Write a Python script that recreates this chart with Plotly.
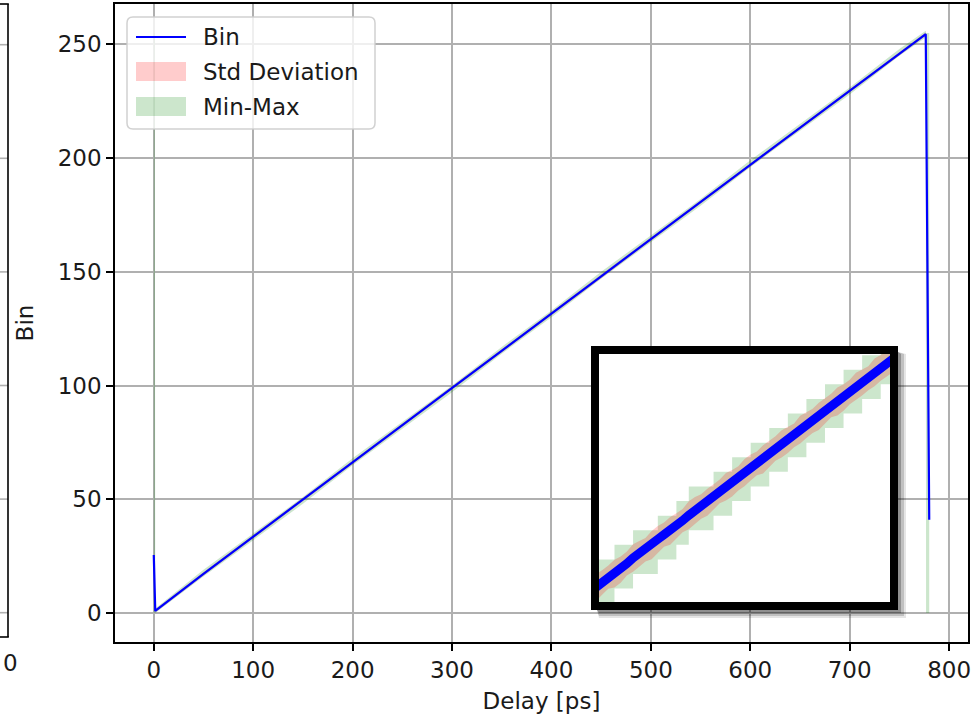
import plotly.graph_objects as go

# ---------------- data ----------------
delay_ps = [0, 1, 1.5, 50, 100, 150, 200, 250, 300, 350, 400, 450, 500, 550,
            600, 650, 700, 750, 776.5, 776.8, 780]
bin_mean = [25.5, 13.0, 0.9, 17.2, 33.5, 49.9, 66.2, 82.6, 98.9, 115.3, 131.6,
            148.0, 164.4, 180.7, 197.1, 213.4, 229.8, 246.1, 254.5, 236.2, 41.0]
bin_std = [0.6, 0.6, 0.6, 0.7, 0.7, 0.8, 0.7, 0.7, 0.8, 0.7, 0.7, 0.8, 0.7,
           0.7, 0.8, 0.7, 0.7, 0.8, 0.7, 0.6, 0.6]
bin_min = [0, 0, 0, 16, 32, 48, 65, 81, 97, 114, 130, 147, 163, 179, 196, 212,
           228, 245, 253, 0, 0]
bin_max = [255, 255, 2, 19, 35, 51, 68, 84, 100, 117, 133, 150, 166, 182, 199,
           215, 231, 248, 256, 255, 255]

# zoomed detail shown in the inset
inset_delay = [498, 499, 500, 501, 502, 503, 504, 505, 506, 507, 508, 509, 510,
               511, 512, 513, 514, 515, 516, 517, 518, 519, 520, 521, 522, 523,
               524, 525, 526, 527, 528, 529, 530, 531, 532, 533, 534, 535, 536,
               537, 538, 539, 540, 541, 542, 543, 544, 545, 546, 547]
inset_mean = [163.75, 164.05, 164.42, 164.78, 165.02, 165.30, 165.72, 166.10,
              166.38, 166.66, 166.98, 167.38, 167.70, 167.96, 168.28, 168.66,
              169.02, 169.35, 169.62, 169.92, 170.30, 170.66, 170.98, 171.22,
              171.55, 171.95, 172.30, 172.58, 172.86, 173.20, 173.60, 173.92,
              174.18, 174.50, 174.90, 175.22, 175.50, 175.80, 176.20, 176.55,
              176.82, 177.10, 177.48, 177.85, 178.12, 178.42, 178.82, 179.15,
              179.42, 179.75]
inset_std = [0.86, 0.93, 0.84, 0.80, 0.95, 0.90, 0.82, 0.94, 0.89, 0.81,
             0.97, 0.91, 0.83, 0.95, 0.88, 0.80, 0.96, 0.92, 0.84, 0.93,
             0.86, 0.81, 0.95, 0.90, 0.83, 0.94, 0.89, 0.82, 0.97, 0.91,
             0.84, 0.94, 0.88, 0.81, 0.95, 0.90, 0.83, 0.93, 0.86, 0.80,
             0.96, 0.91, 0.84, 0.94, 0.89, 0.82, 0.95, 0.90, 0.85, 0.92]
inset_min = [162, 163, 163, 163, 164, 164, 164, 165, 165, 165, 165, 166, 166,
             166, 167, 167, 168, 168, 168, 168, 169, 169, 169, 170, 170, 170,
             171, 171, 171, 172, 172, 172, 173, 173, 173, 174, 174, 174, 175,
             175, 175, 176, 176, 176, 177, 177, 177, 178, 178, 178]
inset_max = [165, 166, 166, 166, 167, 167, 167, 168, 168, 168, 168, 169, 169,
             169, 170, 170, 171, 171, 171, 171, 172, 172, 172, 173, 173, 173,
             174, 174, 174, 175, 175, 175, 176, 176, 176, 177, 177, 177, 178,
             178, 178, 179, 179, 179, 180, 180, 180, 181, 181, 181]

x_ticks = [0, 100, 200, 300, 400, 500, 600, 700, 800]
y_ticks = [0, 50, 100, 150, 200, 250]
legend_labels = ["Bin", "Std Deviation", "Min-Max"]
x_title = "Delay [ps]"
y_title = "Bin"
left_panel_tick = "0"

# ---------------- styling ----------------
FONT = "DejaVu Sans"
FS = 23
TXT = "#1a1a1a"
GREEN = "rgba(0,128,0,0.2)"
RED = "rgba(255,0,0,0.2)"
BLUE = "#0000ff"

W, H = 973, 715
ML, MR, MT, MB = 115, 5, 4, 73
PW = W - ML - MR
PH = H - MT - MB


def px(x):
    return (x - ML) / PW


def py(y):
    return (H - MB - y) / PH


fig = go.Figure()


def add_bands(x, mean, std, lo, hi, xa, ya, width, band_shape):
    fig.add_trace(go.Scatter(x=x, y=lo, mode="lines", line=dict(width=0, shape=band_shape),
                             xaxis=xa, yaxis=ya, showlegend=False, hoverinfo="skip"))
    fig.add_trace(go.Scatter(x=x, y=hi, mode="lines", line=dict(width=0, shape=band_shape),
                             fill="tonexty", fillcolor=GREEN, xaxis=xa, yaxis=ya,
                             showlegend=False, hoverinfo="skip"))
    fig.add_trace(go.Scatter(x=x, y=[m - s for m, s in zip(mean, std)], mode="lines",
                             line=dict(width=0), xaxis=xa, yaxis=ya,
                             showlegend=False, hoverinfo="skip"))
    fig.add_trace(go.Scatter(x=x, y=[m + s for m, s in zip(mean, std)], mode="lines",
                             line=dict(width=0), fill="tonexty", fillcolor=RED,
                             xaxis=xa, yaxis=ya, showlegend=False, hoverinfo="skip"))
    fig.add_trace(go.Scatter(x=x, y=mean, mode="lines", line=dict(color=BLUE, width=width),
                             xaxis=xa, yaxis=ya, showlegend=False))


add_bands(delay_ps, bin_mean, bin_std, bin_min, bin_max, "x", "y", 2.2, "linear")
add_bands(inset_delay, inset_mean, inset_std, inset_min, inset_max, "x2", "y2", 9, "hv")

axis_common = dict(
    showline=True, linecolor="black", linewidth=1.6, mirror=True,
    ticks="outside", ticklen=7, tickwidth=1.6, tickcolor="black",
    showgrid=True, gridcolor="#b0b0b0", gridwidth=1.6, zeroline=False,
    tickfont=dict(family=FONT, size=FS, color=TXT), automargin=False,
)

fig.update_layout(
    width=W, height=H,
    margin=dict(l=ML, r=MR, t=MT, b=MB, autoexpand=False),
    paper_bgcolor="white", plot_bgcolor="white",
    showlegend=False,
    font=dict(family=FONT, size=FS, color=TXT),
    xaxis=dict(domain=[0, 1], range=[-39, 819], tickmode="array", tickvals=x_ticks,
               ticktext=[str(v) for v in x_ticks],
               title=dict(text=x_title, font=dict(family=FONT, size=FS, color=TXT), standoff=10),
               **axis_common),
    yaxis=dict(domain=[0, 1], range=[-12.75, 267.75], tickmode="array", tickvals=y_ticks,
               ticktext=[str(v) for v in y_ticks],
               title=dict(text=y_title, font=dict(family=FONT, size=FS, color=TXT), standoff=18),
               **axis_common),
    xaxis2=dict(domain=[px(599), px(890)], range=[499.5, 546.5], anchor="y2", visible=False),
    yaxis2=dict(domain=[py(602), py(354)], range=[163.08, 180.08], anchor="x2", visible=False),
)

shapes = []

# partially visible neighbouring panel on the far left
for t in y_ticks:
    ypix = 612.7 - t * 2.272
    shapes.append(dict(type="line", xref="paper", yref="paper", x0=px(0), x1=px(8),
                       y0=py(ypix), y1=py(ypix), line=dict(color="#b0b0b0", width=1.6), layer="above"))
shapes.append(dict(type="line", xref="paper", yref="paper", x0=px(8), x1=px(8),
                   y0=py(4), y1=py(637), line=dict(color="black", width=1.6), layer="above"))
shapes.append(dict(type="line", xref="paper", yref="paper", x0=px(-2), x1=px(8.8),
                   y0=py(637), y1=py(637), line=dict(color="black", width=1.6), layer="above"))
shapes.append(dict(type="line", xref="paper", yref="paper", x0=px(-2), x1=px(8.8),
                   y0=py(4), y1=py(4), line=dict(color="black", width=1.6), layer="above"))


def lpath(pts):
    return "M" + " L".join(f"{px(a):.5f},{py(b):.5f}" for a, b in pts) + " Z"


# inset drop shadow (L-shaped, outside the inset area)
for (off, op) in [(8, 0.10), (6, 0.16), (3, 0.25)]:
    pts = [(597, 610), (898, 610), (898, 352), (898 + off, 352 + 2), (898 + off, 610 + off),
           (597 + 2, 610 + off)]
    shapes.append(dict(type="path", xref="paper", yref="paper", path=lpath(pts),
                       fillcolor=f"rgba(0,0,0,{op})", line=dict(width=0), layer="above"))
# inset frame
shapes.append(dict(type="rect", xref="paper", yref="paper", x0=px(595), x1=px(894),
                   y0=py(606), y1=py(350), line=dict(color="black", width=8), layer="above"))

# legend box (rounded)
x0, x1, y0, y1, r = 127, 375, 17, 129, 6


def P(a, b):
    return f"{px(a):.5f},{py(b):.5f}"


legend_path = (f"M{P(x0 + r, y0)} L{P(x1 - r, y0)} Q{P(x1, y0)} {P(x1, y0 + r)} "
               f"L{P(x1, y1 - r)} Q{P(x1, y1)} {P(x1 - r, y1)} L{P(x0 + r, y1)} "
               f"Q{P(x0, y1)} {P(x0, y1 - r)} L{P(x0, y0 + r)} Q{P(x0, y0)} {P(x0 + r, y0)} Z")
shapes.append(dict(type="path", xref="paper", yref="paper", path=legend_path,
                   fillcolor="rgba(255,255,255,0.8)", line=dict(color="rgba(204,204,204,0.9)", width=1.5),
                   layer="above"))
shapes.append(dict(type="line", xref="paper", yref="paper", x0=px(136), x1=px(186),
                   y0=py(37), y1=py(37), line=dict(color=BLUE, width=2.2), layer="above"))
shapes.append(dict(type="rect", xref="paper", yref="paper", x0=px(136), x1=px(186),
                   y0=py(81), y1=py(62), fillcolor=RED, line=dict(width=0), layer="above"))
shapes.append(dict(type="rect", xref="paper", yref="paper", x0=px(136), x1=px(186),
                   y0=py(116), y1=py(97), fillcolor=GREEN, line=dict(width=0), layer="above"))

fig.update_layout(shapes=shapes)

annotations = []
for label, ycen in zip(legend_labels, [37, 71.5, 106.5]):
    annotations.append(dict(text=label, xref="paper", yref="paper", x=px(201), y=py(ycen),
                            xanchor="left", yanchor="middle", showarrow=False,
                            font=dict(family=FONT, size=FS, color=TXT)))
annotations.append(dict(text=left_panel_tick, xref="paper", yref="paper", x=px(1), y=py(663),
                        xanchor="left", yanchor="middle", showarrow=False,
                        font=dict(family=FONT, size=FS, color=TXT)))
fig.update_layout(annotations=annotations)

fig.write_html(
    "out.html",
    config={"displayModeBar": False},
    post_script="document.body.style.margin='0';document.body.style.overflow='hidden';",
)
